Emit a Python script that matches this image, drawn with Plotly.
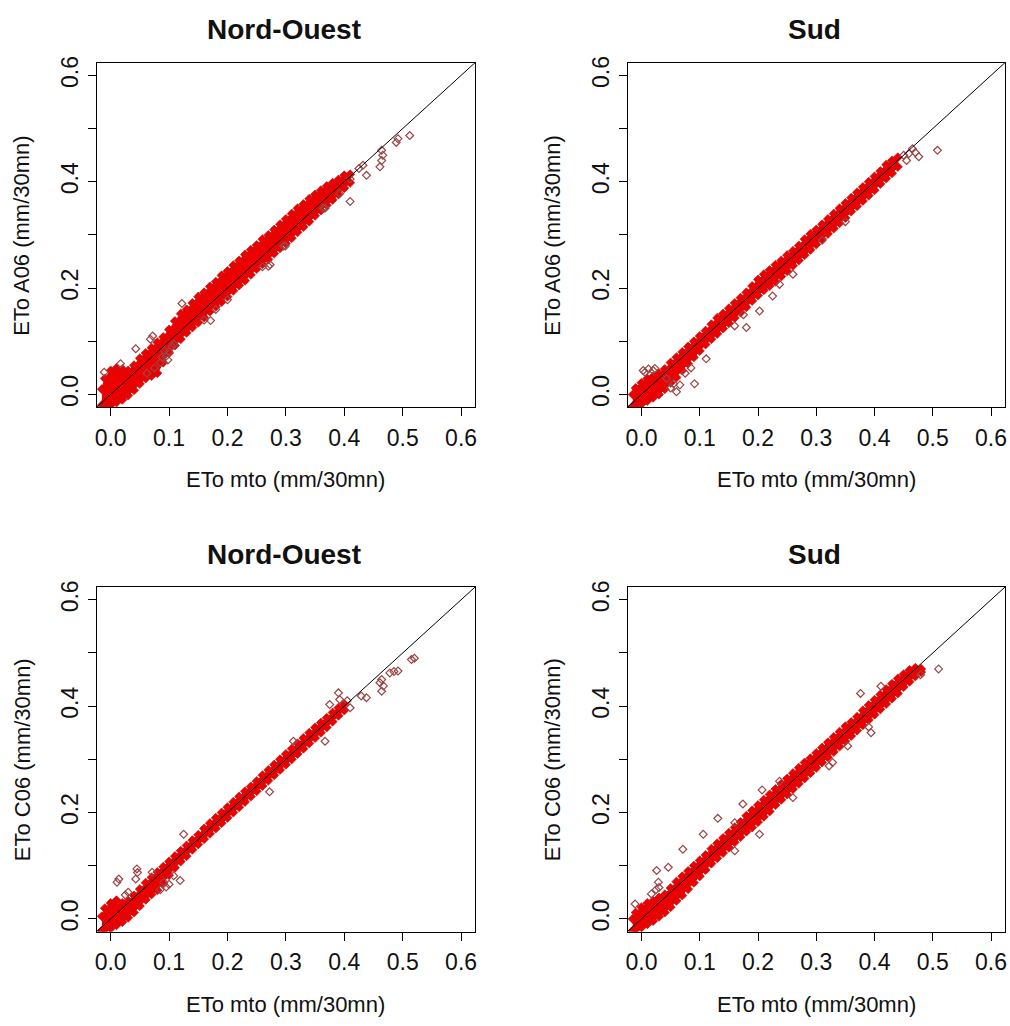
import plotly.graph_objects as go

# ---------------- DATA ----------------
# Panel 1: Nord-Ouest, ETo A06 vs ETo mto
nw_a06_band_x = [-0.015, -0.01, 0.00, 0.01, 0.02, 0.03, 0.04, 0.05, 0.06, 0.07, 0.08, 0.09,
                 0.10, 0.11, 0.12, 0.13, 0.14, 0.15, 0.16, 0.17, 0.18, 0.19, 0.20, 0.21,
                 0.22, 0.23, 0.24, 0.25, 0.26, 0.27, 0.28, 0.29, 0.30, 0.31, 0.32, 0.33,
                 0.34, 0.35, 0.36, 0.37, 0.38, 0.39, 0.40, 0.41]
nw_a06_band_lo = [-0.020, -0.022, -0.020, -0.015, -0.010, -0.002, 0.008, 0.020, 0.030, 0.035, 0.040, 0.060,
                  0.078, 0.092, 0.104, 0.116, 0.126, 0.135, 0.145, 0.156, 0.165, 0.174, 0.184, 0.195,
                  0.205, 0.214, 0.225, 0.236, 0.245, 0.254, 0.265, 0.275, 0.284, 0.294, 0.305, 0.315,
                  0.325, 0.336, 0.346, 0.356, 0.366, 0.376, 0.388, 0.398]
nw_a06_band_hi = [0.010, 0.030, 0.045, 0.050, 0.048, 0.045, 0.055, 0.068, 0.078, 0.088, 0.098, 0.108,
                  0.122, 0.138, 0.152, 0.160, 0.172, 0.184, 0.192, 0.203, 0.212, 0.224, 0.232, 0.243,
                  0.252, 0.263, 0.272, 0.281, 0.292, 0.300, 0.310, 0.320, 0.330, 0.340, 0.350, 0.358,
                  0.368, 0.376, 0.384, 0.392, 0.398, 0.404, 0.412, 0.414]
nw_a06_out_x = [-0.011, 0.017, 0.043, 0.068, 0.072, 0.108, 0.122, 0.062, 0.075, 0.085, 0.095, 0.088,
                0.092, 0.100, 0.105, 0.098, 0.160, 0.171, 0.180, 0.200, 0.260, 0.270, 0.273, 0.296,
                0.299, 0.364, 0.367, 0.392, 0.410, 0.410, 0.425, 0.432, 0.438, 0.461, 0.464, 0.466,
                0.464, 0.489, 0.492, 0.512]
nw_a06_out_y = [0.042, 0.058, 0.086, 0.104, 0.110, 0.095, 0.171, 0.040, 0.050, 0.060, 0.072, 0.070,
                0.082, 0.080, 0.090, 0.065, 0.140, 0.139, 0.160, 0.178, 0.240, 0.241, 0.244, 0.279,
                0.279, 0.350, 0.350, 0.378, 0.363, 0.405, 0.425, 0.431, 0.412, 0.428, 0.440, 0.450,
                0.459, 0.474, 0.481, 0.487]

# Panel 2: Sud, ETo A06 vs ETo mto
s_a06_band_x = [-0.015, -0.01, 0.00, 0.01, 0.02, 0.03, 0.04, 0.05, 0.06, 0.07, 0.08, 0.09,
                0.10, 0.11, 0.12, 0.13, 0.14, 0.15, 0.16, 0.17, 0.18, 0.19, 0.20, 0.21,
                0.22, 0.23, 0.24, 0.25, 0.26, 0.27, 0.28, 0.29, 0.30, 0.31, 0.32, 0.33,
                0.34, 0.35, 0.36, 0.37, 0.38, 0.39, 0.40, 0.41, 0.42, 0.43, 0.44]
s_a06_band_lo = [-0.022, -0.020, -0.018, -0.012, -0.006, 0.000, 0.010, 0.022, 0.032, 0.045, 0.058, 0.070,
                 0.082, 0.094, 0.104, 0.114, 0.124, 0.134, 0.144, 0.154, 0.164, 0.176, 0.186, 0.196,
                 0.204, 0.212, 0.222, 0.232, 0.242, 0.252, 0.262, 0.272, 0.282, 0.292, 0.302, 0.312,
                 0.322, 0.332, 0.344, 0.354, 0.364, 0.374, 0.384, 0.396, 0.406, 0.416, 0.428]
s_a06_band_hi = [0.000, 0.012, 0.022, 0.030, 0.034, 0.040, 0.048, 0.060, 0.070, 0.080, 0.090, 0.100,
                 0.110, 0.120, 0.132, 0.144, 0.152, 0.162, 0.172, 0.182, 0.192, 0.204, 0.216, 0.226,
                 0.234, 0.244, 0.252, 0.262, 0.270, 0.280, 0.292, 0.302, 0.310, 0.320, 0.330, 0.340,
                 0.350, 0.360, 0.370, 0.380, 0.390, 0.400, 0.410, 0.420, 0.432, 0.440, 0.446]
s_a06_out_x = [0.003, 0.012, 0.020, 0.006, 0.023, 0.043, 0.050, 0.055, 0.060, 0.066, 0.091, 0.075,
               0.085, 0.111, 0.160, 0.175, 0.180, 0.2026, 0.225, 0.237, 0.260, 0.310, 0.350, 0.450,
               0.455, 0.459, 0.465, 0.470, 0.476, 0.508]
s_a06_out_y = [0.045, 0.048, 0.045, 0.042, 0.049, 0.030, 0.012, 0.020, 0.005, 0.018, 0.020, 0.040,
               0.050, 0.067, 0.129, 0.150, 0.126, 0.157, 0.185, 0.207, 0.226, 0.290, 0.325, 0.450,
               0.440, 0.453, 0.462, 0.455, 0.447, 0.459]

# Panel 3: Nord-Ouest, ETo C06 vs ETo mto
nw_c06_band_x = [-0.015, -0.01, 0.00, 0.01, 0.02, 0.03, 0.04, 0.05, 0.06, 0.07, 0.08, 0.09,
                 0.10, 0.11, 0.12, 0.13, 0.14, 0.15, 0.16, 0.17, 0.18, 0.19, 0.20, 0.21,
                 0.22, 0.23, 0.24, 0.25, 0.26, 0.27, 0.28, 0.29, 0.30, 0.31, 0.32, 0.33,
                 0.34, 0.35, 0.36, 0.37, 0.38, 0.39, 0.40]
nw_c06_band_lo = [-0.022, -0.020, -0.018, -0.012, -0.006, 0.002, 0.012, 0.024, 0.036, 0.046, 0.054, 0.066,
                  0.082, 0.096, 0.108, 0.118, 0.130, 0.140, 0.150, 0.160, 0.170, 0.180, 0.190, 0.200,
                  0.210, 0.220, 0.230, 0.240, 0.250, 0.260, 0.270, 0.280, 0.290, 0.300, 0.310, 0.320,
                  0.330, 0.340, 0.350, 0.360, 0.371, 0.382, 0.392]
nw_c06_band_hi = [0.005, 0.020, 0.030, 0.035, 0.030, 0.034, 0.044, 0.056, 0.068, 0.078, 0.088, 0.098,
                  0.108, 0.118, 0.128, 0.138, 0.148, 0.158, 0.170, 0.180, 0.190, 0.200, 0.210, 0.220,
                  0.230, 0.240, 0.249, 0.259, 0.270, 0.280, 0.290, 0.300, 0.310, 0.320, 0.330, 0.340,
                  0.350, 0.360, 0.369, 0.378, 0.388, 0.397, 0.404]
nw_c06_out_x = [0.011, 0.014, 0.025, 0.030, 0.043, 0.045, 0.046, 0.071, 0.085, 0.091, 0.095, 0.100,
                0.108, 0.119, 0.125, 0.272, 0.313, 0.367, 0.375, 0.390, 0.392, 0.405, 0.410, 0.429,
                0.438, 0.461, 0.464, 0.464, 0.467, 0.478, 0.485, 0.492, 0.515, 0.520]
nw_c06_out_y = [0.069, 0.075, 0.045, 0.050, 0.075, 0.094, 0.087, 0.0875, 0.055, 0.069, 0.060, 0.065,
                0.081, 0.072, 0.159, 0.239, 0.334, 0.334, 0.403, 0.425, 0.4125, 0.410, 0.397, 0.419,
                0.416, 0.444, 0.428, 0.450, 0.438, 0.4625, 0.465, 0.466, 0.4875, 0.490]

# Panel 4: Sud, ETo C06 vs ETo mto
s_c06_band_x = [-0.015, -0.01, 0.00, 0.01, 0.02, 0.03, 0.04, 0.05, 0.06, 0.07, 0.08, 0.09,
                0.10, 0.11, 0.12, 0.13, 0.14, 0.15, 0.16, 0.17, 0.18, 0.19, 0.20, 0.21,
                0.22, 0.23, 0.24, 0.25, 0.26, 0.27, 0.28, 0.29, 0.30, 0.31, 0.32, 0.33,
                0.34, 0.35, 0.36, 0.37, 0.38, 0.39, 0.40, 0.41, 0.42, 0.43, 0.44, 0.45,
                0.46, 0.47, 0.48]
s_c06_band_lo = [-0.022, -0.020, -0.016, -0.010, -0.004, 0.004, 0.012, 0.022, 0.034, 0.044, 0.056, 0.068,
                 0.080, 0.092, 0.104, 0.114, 0.124, 0.134, 0.144, 0.154, 0.164, 0.172, 0.182, 0.192,
                 0.202, 0.214, 0.224, 0.234, 0.244, 0.254, 0.264, 0.274, 0.284, 0.294, 0.304, 0.314,
                 0.324, 0.334, 0.344, 0.354, 0.364, 0.374, 0.384, 0.394, 0.404, 0.414, 0.424, 0.436,
                 0.446, 0.456, 0.464]
s_c06_band_hi = [0.000, 0.012, 0.022, 0.030, 0.034, 0.040, 0.046, 0.058, 0.070, 0.080, 0.090, 0.100,
                 0.110, 0.120, 0.132, 0.142, 0.152, 0.162, 0.172, 0.182, 0.194, 0.204, 0.214, 0.224,
                 0.234, 0.244, 0.254, 0.264, 0.274, 0.284, 0.294, 0.302, 0.312, 0.322, 0.332, 0.342,
                 0.352, 0.362, 0.370, 0.380, 0.392, 0.402, 0.412, 0.422, 0.432, 0.442, 0.452, 0.460,
                 0.468, 0.472, 0.470]
s_c06_out_x = [-0.011, 0.017, 0.025, 0.030, 0.026, 0.029, 0.046, 0.071, 0.106, 0.131, 0.160, 0.160,
               0.174, 0.2025, 0.207, 0.237, 0.260, 0.322, 0.328, 0.354, 0.376, 0.390, 0.394, 0.411,
               0.479, 0.510]
s_c06_out_y = [0.028, 0.047, 0.055, 0.059, 0.091, 0.069, 0.097, 0.131, 0.159, 0.189, 0.181, 0.128,
               0.216, 0.159, 0.2425, 0.259, 0.228, 0.2875, 0.294, 0.325, 0.424, 0.361, 0.350, 0.4375,
               0.459, 0.470]

panel_titles = ["Nord-Ouest", "Sud", "Nord-Ouest", "Sud"]
x_titles = ["ETo mto (mm/30mn)"] * 4
y_titles = ["ETo A06 (mm/30mn)", "ETo A06 (mm/30mn)", "ETo C06 (mm/30mn)", "ETo C06 (mm/30mn)"]
tick_vals = [0.0, 0.1, 0.2, 0.3, 0.4, 0.5, 0.6]
x_tick_text = ["0.0", "0.1", "0.2", "0.3", "0.4", "0.5", "0.6"]
y_tick_text = ["0.0", "", "0.2", "", "0.4", "", "0.6"]

panels = [
    (nw_a06_band_x, nw_a06_band_lo, nw_a06_band_hi, nw_a06_out_x, nw_a06_out_y),
    (s_a06_band_x, s_a06_band_lo, s_a06_band_hi, s_a06_out_x, s_a06_out_y),
    (nw_c06_band_x, nw_c06_band_lo, nw_c06_band_hi, nw_c06_out_x, nw_c06_out_y),
    (s_c06_band_x, s_c06_band_lo, s_c06_band_hi, s_c06_out_x, s_c06_out_y),
]

# ---------------- LAYOUT / STYLE ----------------
W, H = 1010, 1026
AXIS_RANGE = [-0.024, 0.624]
# plot boxes in pixels: (left, right, top, bottom)
boxes = [(95, 475, 56, 403), (628, 1007, 56, 403), (95, 475, 584, 931), (628, 1007, 584, 931)]
FONT = "Liberation Sans, Arial, sans-serif"
RED = "#ee0000"

fig = go.Figure()
layout = dict(width=W, height=H, margin=dict(l=0, r=0, t=0, b=0),
              paper_bgcolor="white", plot_bgcolor="white", showlegend=False,
              annotations=[])

for i, (bx, blo, bhi, ox, oy) in enumerate(panels):
    xa = "x" if i == 0 else f"x{i+1}"
    ya = "y" if i == 0 else f"y{i+1}"
    # dense cloud of points (filled envelope)
    fig.add_trace(go.Scatter(x=list(bx) + list(bx)[::-1], y=list(bhi) + list(blo)[::-1],
                             mode="lines", fill="toself", fillcolor=RED,
                             line=dict(color="#dd0000", width=1), xaxis=xa, yaxis=ya,
                             hoverinfo="skip"))
    # points along the envelope edges
    fig.add_trace(go.Scatter(x=list(bx) + list(bx), y=list(blo) + list(bhi), mode="markers",
                             marker=dict(symbol="diamond", size=7, color=RED,
                                         line=dict(color="#b81818", width=0.7)),
                             xaxis=xa, yaxis=ya))
    # isolated points
    fig.add_trace(go.Scatter(x=ox, y=oy, mode="markers",
                             marker=dict(symbol="diamond-open", size=6, color="#9c4444",
                                         line=dict(width=1.2)),
                             xaxis=xa, yaxis=ya))
    # 1:1 line
    fig.add_trace(go.Scatter(x=AXIS_RANGE, y=AXIS_RANGE, mode="lines",
                             line=dict(color="black", width=1), xaxis=xa, yaxis=ya))

    l, r, t, b = boxes[i]
    xdom = [l / W, r / W]
    ydom = [1 - b / H, 1 - t / H]
    axis_common = dict(range=AXIS_RANGE, showgrid=False, zeroline=False, showline=True,
                       mirror=True, linecolor="black", linewidth=1, ticks="outside",
                       ticklen=8, tickwidth=1, tickcolor="black", tickvals=tick_vals,
                       tickfont=dict(family=FONT, size=23, color="#111"))
    xkey = "xaxis" if i == 0 else f"xaxis{i+1}"
    ykey = "yaxis" if i == 0 else f"yaxis{i+1}"
    layout[xkey] = dict(axis_common, domain=xdom, anchor=ya, ticktext=x_tick_text,
                        ticklabelstandoff=2)
    layout[ykey] = dict(axis_common, domain=ydom, anchor=xa, ticktext=y_tick_text,
                        tickangle=-90, ticklabelstandoff=0)

    cx = (l + r) / 2
    layout["annotations"].append(dict(text=panel_titles[i], x=(cx - 2) / W, y=1 - (t - 33) / H,
                                      xref="paper", yref="paper", showarrow=False,
                                      xanchor="center", yanchor="middle",
                                      font=dict(family=FONT, size=28, color="#111", weight="bold")))
    layout["annotations"].append(dict(text=x_titles[i], x=cx / W, y=1 - (b + 73) / H,
                                      xref="paper", yref="paper", showarrow=False,
                                      xanchor="center", yanchor="middle",
                                      font=dict(family=FONT, size=22, color="#111")))
    layout["annotations"].append(dict(text=y_titles[i], x=(l - 75) / W, y=1 - ((t + b) / 2) / H,
                                      xref="paper", yref="paper", showarrow=False, textangle=-90,
                                      xanchor="center", yanchor="middle",
                                      font=dict(family=FONT, size=22, color="#111")))

fig.update_layout(**layout)
fig.write_html("out.html", config={"displayModeBar": False},
               post_script="document.body.style.margin='0px';"
                           "document.body.style.overflow='hidden';")
